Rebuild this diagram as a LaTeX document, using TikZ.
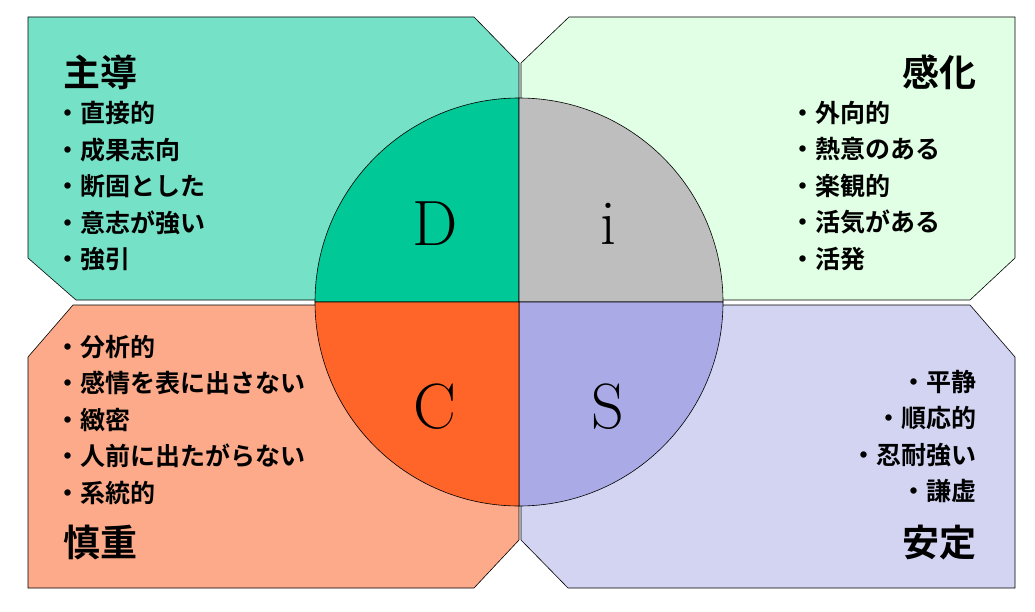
\documentclass[tikz,border=0pt]{standalone}
\usepackage{fontspec}
\newfontfamily\jp{Noto Sans CJK JP}[BoldFont={* Bold}]
\definecolor{pTL}{HTML}{75E2C8}\definecolor{pTR}{HTML}{E0FFE4}
\definecolor{pBL}{HTML}{FCAA8A}\definecolor{pBR}{HTML}{D2D4F2}
\definecolor{qD}{HTML}{00C896}\definecolor{qI}{HTML}{BEBEBE}
\definecolor{qC}{HTML}{FF6428}\definecolor{qS}{HTML}{AAAAE6}
\begin{document}
\begin{tikzpicture}[x=1pt,y=-1pt,
  panel/.style={draw=black,line width=0.6pt},
  quad/.style={draw=black,line width=0.6pt},
  title/.style={font=\jp\bfseries\fontsize{37}{37}\selectfont,inner sep=0pt},
  items/.style={font=\jp\bfseries\fontsize{25}{36.5}\selectfont,inner sep=0pt},
  letter/.style={font=\fontsize{64}{64}\selectfont,inner sep=0pt}]
\useasboundingbox[fill=white] (0,0) rectangle (1035,612);
\path[panel,fill=pTL] (28,17) -- (474,17) -- (519,63) -- (519,300) -- (76,300) -- (28,258) -- cycle;
\path[panel,fill=pTR] (569,17) -- (1015,17) -- (1015,258) -- (970,300) -- (521,300) -- (521,63) -- cycle;
\path[panel,fill=pBL] (73,305) -- (519,305) -- (519,540) -- (474,588) -- (28,588) -- (28,357) -- cycle;
\path[panel,fill=pBR] (521,305) -- (970,305) -- (1015,357) -- (1015,588) -- (568,588) -- (521,540) -- cycle;
\coordinate (o) at (519,302);
\path[quad,fill=qD] (o) -- (315,302) arc[start angle=180,end angle=270,radius=204] -- cycle;
\path[quad,fill=qI] (o) -- (519,98) arc[start angle=270,end angle=360,radius=204] -- cycle;
\path[quad,fill=qS] (o) -- (723,302) arc[start angle=0,end angle=90,radius=204] -- cycle;
\path[quad,fill=qC] (o) -- (519,506) arc[start angle=90,end angle=180,radius=204] -- cycle;
\node[letter] (ld) at (435,224) {D};
\node[letter] (li) at (608,224) {i};
\node[letter] (lc) at (435,407) {C};
\node[letter] (ls) at (608,407) {S};
\node[title,anchor=west] (t1) at (63,72) {主導};
\node[title,anchor=east] (t2) at (977,72) {感化};
\node[title,anchor=west] (t3) at (63,543) {慎重};
\node[title,anchor=east] (t4) at (977,543) {安定};
\node[items,anchor=north west,align=left] (i1) at (55,101) {・直接的\\・成果志向\\・断固とした\\・意志が強い\\・強引};
\node[items,anchor=north west,align=left] (i2) at (790,101) {・外向的\\・熱意のある\\・楽観的\\・活気がある\\・活発};
\node[items,anchor=north west,align=left] (i3) at (55,335) {・分析的\\・感情を表に出さない\\・緻密\\・人前に出たがらない\\・系統的};
\node[items,anchor=north east,align=right] (i4) at (977,370) {・平静\\・順応的\\・忍耐強い\\・謙虚};
\end{tikzpicture}
\end{document}
